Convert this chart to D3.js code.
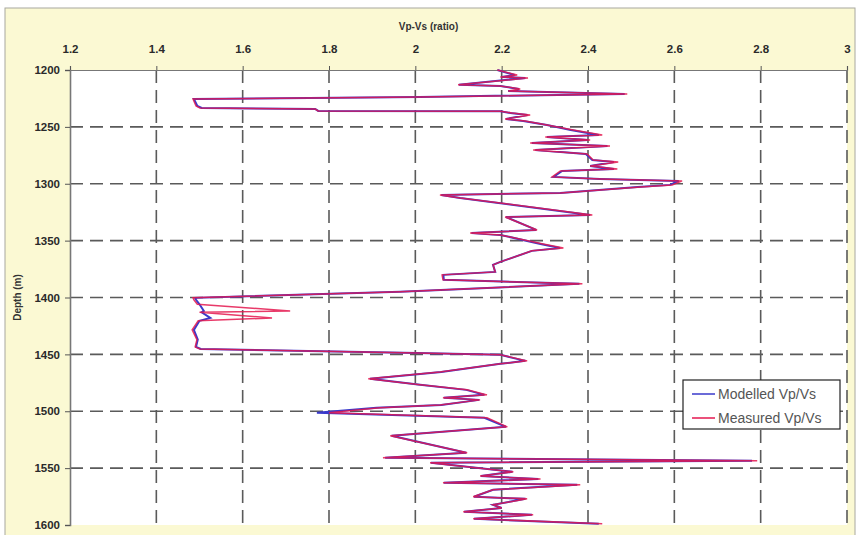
<!DOCTYPE html>
<html>
<head>
<meta charset="utf-8">
<script src="https://cdn.jsdelivr.net/npm/d3@7.9.0/dist/d3.min.js"></script>
<style>
  body { margin: 0; background: #fff; }
  text { font-family: "Liberation Sans", Arial, sans-serif; }
</style>
</head>
<body>
<script>
// ratio ticks along the top and depth ticks down the side
const ratioTicks = [1.2, 1.4, 1.6, 1.8, 2, 2.2, 2.4, 2.6, 2.8, 3];
const depthTicks = [1200, 1250, 1300, 1350, 1400, 1450, 1500, 1550, 1600];

// depth samples (m)
const depth = [
  1200, 1204.4, 1206.2, 1207, 1213, 1214, 1216.7, 1218.5, 1221, 1223.7,
  1225.5, 1231.6, 1233.4, 1234.3, 1236, 1236.2, 1237.8, 1239.5, 1243, 1244.8,
  1248.3, 1252.7, 1257.1, 1258.9, 1261.5, 1264.1, 1266.8, 1270.3, 1273.8, 1279.1,
  1280.8, 1284.4, 1287, 1288.7, 1294, 1295.8, 1297.5, 1301, 1302.8, 1308.1,
  1309.8, 1312.5, 1327.4, 1329.2, 1340.6, 1343.2, 1345, 1352.9, 1356.5, 1359,
  1368.7, 1371.3, 1377.5, 1380.1, 1384.5, 1388, 1395, 1400.3, 1402, 1406,
  1411.8, 1413, 1418, 1420.5, 1428.5, 1437, 1443.4, 1445.2, 1448.7, 1450.4,
  1455.7, 1458.3, 1465.4, 1471.5, 1476.8, 1481.2, 1485.6, 1488.2, 1490, 1494.4,
  1497, 1501.4, 1505.8, 1513.7, 1521.6, 1536.5, 1540.9, 1543.6, 1545.3, 1553.2,
  1557, 1559.5, 1562.9, 1564.7, 1569, 1575.2, 1577, 1582.2, 1585, 1588.4,
  1591, 1594.5, 1599
];

// measured Vp/Vs
const measured = [
  2.19, 2.236, 2.197, 2.261, 2.099, 2.197, 2.243, 2.215, 2.491, 2.011,
  1.485, 1.492, 1.501, 1.768, 1.775, 2.197, 2.224, 2.266, 2.208, 2.254,
  2.305, 2.366, 2.433, 2.301, 2.405, 2.266, 2.451, 2.273, 2.398, 2.412,
  2.47, 2.405, 2.468, 2.336, 2.317, 2.428, 2.618, 2.595, 2.521, 2.336,
  2.057, 2.104, 2.41, 2.208, 2.282, 2.127, 2.197, 2.296, 2.343, 2.27,
  2.197, 2.18, 2.185, 2.062, 2.064, 2.387, 1.965, 1.485, 1.487, 1.495,
  1.71, 1.5, 1.668, 1.497, 1.483, 1.494, 1.49, 1.501, 2.004, 2.197,
  2.259, 2.197, 2.057, 1.891, 2.011, 2.12, 2.166, 2.064, 2.15, 2.057,
  1.918, 1.8, 2.166, 2.213, 1.942, 2.12, 1.925, 2.792, 2.034, 2.227,
  2.15, 2.29, 2.064, 2.382, 2.18, 2.134, 2.259, 2.18, 2.2, 2.111,
  2.273, 2.134, 2.433
];

// modelled Vp/Vs
const modelled = [
  2.19, 2.23, 2.2, 2.255, 2.101, 2.197, 2.24, 2.215, 2.485, 2.011,
  1.487, 1.495, 1.505, 1.768, 1.775, 2.197, 2.22, 2.26, 2.21, 2.25,
  2.305, 2.36, 2.425, 2.305, 2.4, 2.27, 2.445, 2.278, 2.395, 2.41,
  2.46, 2.405, 2.46, 2.34, 2.32, 2.428, 2.61, 2.59, 2.515, 2.336,
  2.06, 2.104, 2.405, 2.21, 2.28, 2.13, 2.197, 2.29, 2.335, 2.27,
  2.197, 2.18, 2.185, 2.065, 2.066, 2.38, 1.965, 1.49, 1.492, 1.5,
  1.51, 1.505, 1.525, 1.5, 1.487, 1.496, 1.492, 1.503, 2.004, 2.197,
  2.255, 2.197, 2.06, 1.895, 2.011, 2.118, 2.16, 2.066, 2.148, 2.06,
  1.91, 1.772, 2.16, 2.21, 1.945, 2.118, 1.93, 2.78, 2.036, 2.225,
  2.152, 2.285, 2.066, 2.375, 2.18, 2.136, 2.255, 2.18, 2.2, 2.113,
  2.27, 2.136, 2.425
];

const W = 860, H = 535;
const svg = d3.select("body").append("svg")
  .attr("width", W)
  .attr("height", H);

// outer chart frame
svg.append("rect")
  .attr("x", 5).attr("y", 8)
  .attr("width", 850).attr("height", 540)
  .attr("fill", "#fbf9d3")
  .attr("stroke", "#a8a8a0");

const plotL = 70, plotR = 847, plotT = 70, plotB = 525;

const x = d3.scaleLinear().domain([1.2, 3]).range([plotL, plotR]);
const y = d3.scaleLinear().domain([1200, 1600]).range([plotT, plotB]);

// plot area
svg.append("rect")
  .attr("x", plotL).attr("y", plotT)
  .attr("width", plotR - plotL).attr("height", plotB - plotT)
  .attr("fill", "#fff");

// dashed grid
svg.append("g").selectAll("line")
  .data(ratioTicks.slice(1))
  .join("line")
  .attr("x1", d => x(d)).attr("x2", d => x(d))
  .attr("y1", plotT).attr("y2", plotB)
  .attr("stroke", "#5a5a5a")
  .attr("stroke-width", 1.6)
  .attr("stroke-dasharray", "13,7");

svg.append("g").selectAll("line")
  .data(depthTicks.slice(1, -1))
  .join("line")
  .attr("x1", plotL).attr("x2", plotR)
  .attr("y1", d => y(d)).attr("y2", d => y(d))
  .attr("stroke", "#5a5a5a")
  .attr("stroke-width", 1.6)
  .attr("stroke-dasharray", "13,7");

// axes
const xAxis = svg.append("g")
  .attr("transform", `translate(0,${plotT})`)
  .call(d3.axisTop(x).tickValues(ratioTicks).tickSize(4).tickFormat(d3.format("~g")));
xAxis.select(".domain").attr("stroke", "#777").attr("stroke-width", 1.2);
xAxis.selectAll(".tick line").attr("stroke", "#555");
xAxis.selectAll("text")
  .attr("y", -17)
  .attr("font-size", 11.5)
  .attr("font-weight", "bold")
  .attr("fill", "#2a2a2a");

const yAxis = svg.append("g")
  .attr("transform", `translate(${plotL},0)`)
  .call(d3.axisLeft(y).tickValues(depthTicks).tickSize(5).tickFormat(d3.format("d")));
yAxis.select(".domain").attr("stroke", "#777").attr("stroke-width", 1.6);
yAxis.selectAll(".tick line").attr("stroke", "#555");
yAxis.selectAll("text")
  .attr("x", -10)
  .attr("font-size", 11.5)
  .attr("font-weight", "bold")
  .attr("fill", "#2a2a2a");

// axis titles
svg.append("text")
  .attr("x", (plotL + plotR) / 2 - 30)
  .attr("y", 30)
  .attr("text-anchor", "middle")
  .attr("font-size", 10)
  .attr("font-weight", "bold")
  .attr("fill", "#333")
  .text("Vp-Vs (ratio)");

svg.append("text")
  .attr("transform", `translate(21,${(plotT + plotB) / 2}) rotate(-90)`)
  .attr("text-anchor", "middle")
  .attr("font-size", 10)
  .attr("font-weight", "bold")
  .attr("fill", "#333")
  .text("Depth (m)");

// the two logs
const modelLine = d3.line()
  .x((d, i) => x(modelled[i]))
  .y(d => y(d));
const measLine = d3.line()
  .x((d, i) => x(measured[i]))
  .y(d => y(d));

svg.append("path")
  .datum(depth)
  .attr("d", modelLine)
  .attr("fill", "none")
  .attr("stroke", "#3a3acb")
  .attr("stroke-width", 2);

svg.append("path")
  .datum(depth)
  .attr("d", measLine)
  .attr("fill", "none")
  .attr("stroke", "#e4174f")
  .attr("stroke-opacity", 0.85)
  .attr("stroke-width", 1.5);

// legend
const legend = svg.append("g").attr("transform", "translate(683,380)");
legend.append("rect")
  .attr("width", 157).attr("height", 49)
  .attr("fill", "#fff")
  .attr("stroke", "#222")
  .attr("stroke-width", 1.2);

const items = [
  { name: "Modelled Vp/Vs", color: "#3a3acb" },
  { name: "Measured Vp/Vs", color: "#e4174f" }
];
items.forEach((it, i) => {
  const yy = 14 + i * 24;
  legend.append("line")
    .attr("x1", 9).attr("x2", 32)
    .attr("y1", yy).attr("y2", yy)
    .attr("stroke", it.color)
    .attr("stroke-width", 1.5);
  legend.append("text")
    .attr("x", 35).attr("y", yy + 5)
    .attr("font-size", 14)
    .attr("fill", "#555")
    .text(it.name);
});
</script>
</body>
</html>
